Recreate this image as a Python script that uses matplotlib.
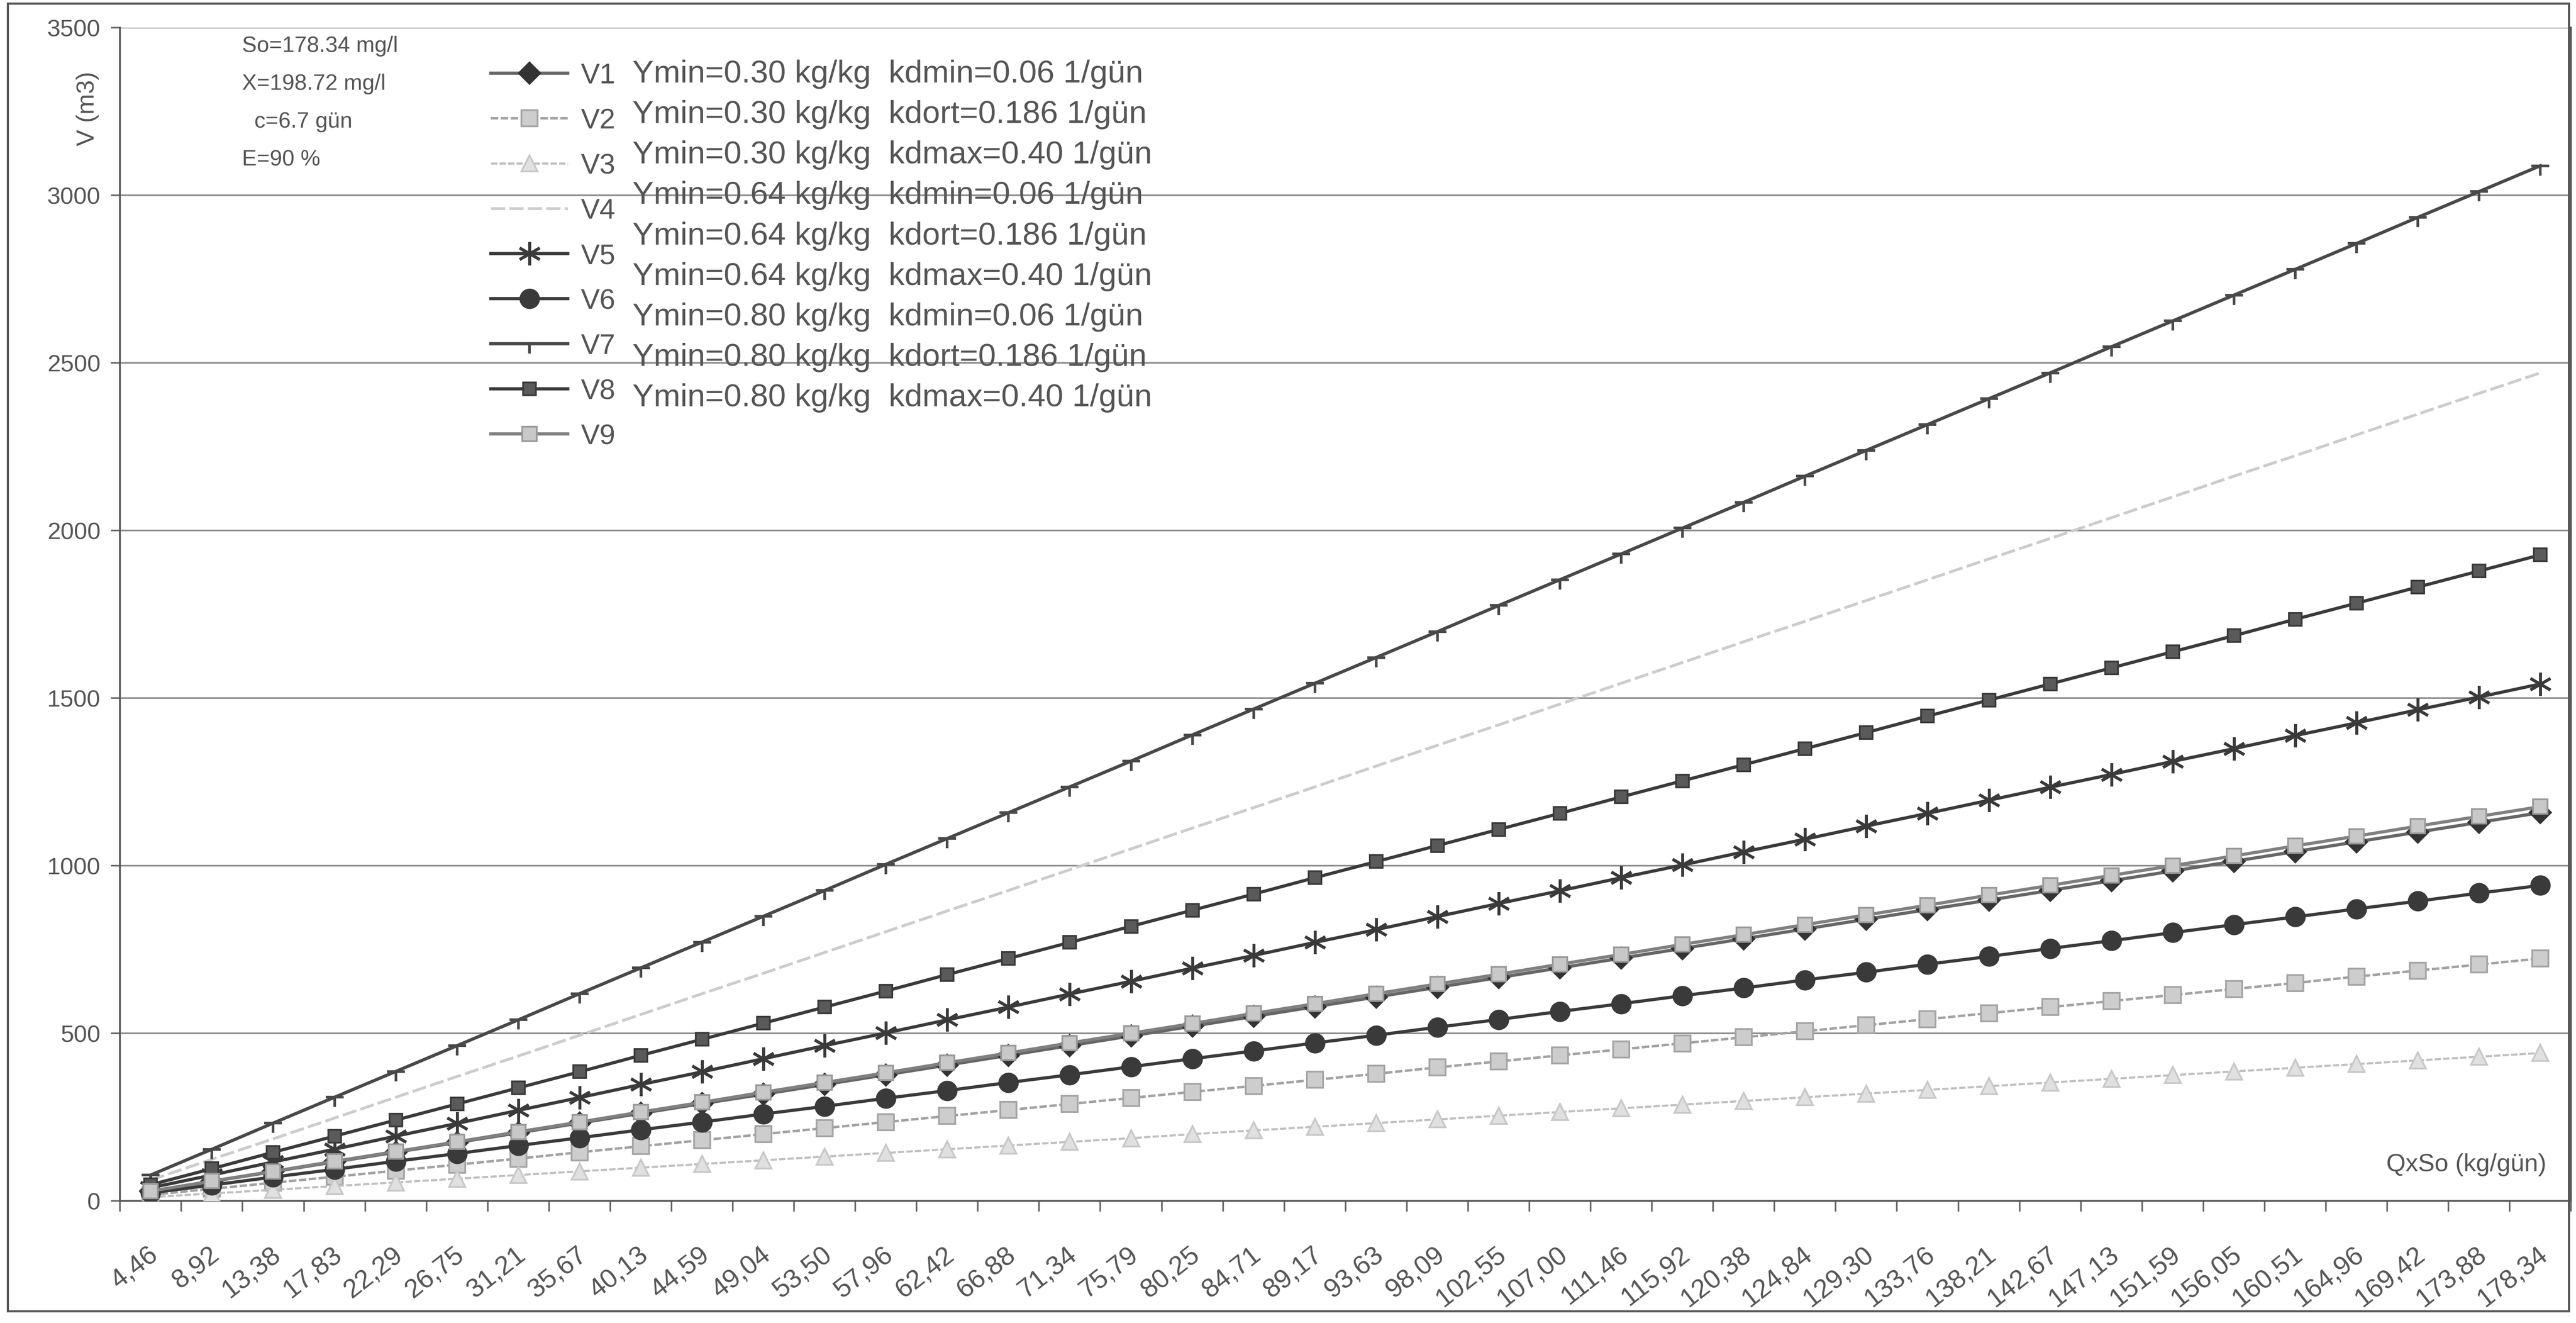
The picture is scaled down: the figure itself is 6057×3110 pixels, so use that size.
import numpy as np
import matplotlib
matplotlib.use('Agg')
import matplotlib.pyplot as plt
import matplotlib.transforms as mtransforms
from matplotlib.path import Path
from matplotlib.patches import Rectangle

plt.rcParams['font.family'] = ['Liberation Sans', 'DejaVu Sans']
narrow = ['Liberation Sans Narrow', 'Liberation Sans', 'DejaVu Sans']

# QxSo categories (kg/gün)
qxso = ['4,46', '8,92', '13,38', '17,83', '22,29', '26,75', '31,21', '35,67', '40,13', '44,59',
        '49,04', '53,50', '57,96', '62,42', '66,88', '71,34', '75,79', '80,25', '84,71', '89,17',
        '93,63', '98,09', '102,55', '107,00', '111,46', '115,92', '120,38', '124,84', '129,30', '133,76',
        '138,21', '142,67', '147,13', '151,59', '156,05', '160,51', '164,96', '169,42', '173,88', '178,34']

# reactor volumes V (m3)
V1 = [29, 58, 87, 116, 145, 174, 203, 232, 261, 290, 318, 347, 376, 405, 434, 463, 492, 521, 550, 579,
      608, 637, 666, 695, 724, 753, 782, 811, 840, 869, 897, 926, 955, 984, 1013, 1042, 1071, 1100, 1129, 1158]
V2 = [18, 36, 54, 72, 90, 108, 126, 145, 163, 181, 199, 217, 235, 253, 271, 289, 307, 325, 343, 361,
      379, 398, 416, 434, 452, 470, 488, 506, 524, 542, 560, 578, 596, 614, 632, 650, 669, 687, 705, 723]
V3 = [11, 22, 33, 44, 55, 66, 77, 88, 99, 110, 121, 132, 143, 154, 165, 176, 187, 199, 210, 221,
      232, 243, 254, 265, 276, 287, 298, 309, 320, 331, 342, 353, 364, 375, 386, 397, 408, 419, 430, 441]
V4 = [62, 124, 185, 247, 309, 371, 432, 494, 556, 618, 679, 741, 803, 865, 926, 988, 1050, 1112, 1173, 1235,
      1297, 1359, 1420, 1482, 1544, 1606, 1668, 1729, 1791, 1853, 1915, 1976, 2038, 2100, 2162, 2223, 2285, 2347, 2409, 2470]
V5 = [39, 77, 116, 154, 193, 231, 270, 308, 347, 385, 424, 463, 501, 540, 578, 617, 655, 694, 732, 771,
      809, 848, 887, 925, 964, 1002, 1041, 1079, 1118, 1156, 1195, 1234, 1272, 1311, 1349, 1388, 1426, 1465, 1503, 1542]
V6 = [24, 47, 71, 94, 118, 141, 165, 188, 212, 235, 259, 282, 306, 329, 353, 376, 400, 424, 447, 471,
      494, 518, 541, 565, 588, 612, 635, 659, 682, 706, 729, 753, 776, 800, 824, 847, 871, 894, 918, 941]
V7 = [77, 154, 232, 309, 386, 463, 540, 618, 695, 772, 849, 926, 1004, 1081, 1158, 1235, 1312, 1390, 1467, 1544,
      1621, 1698, 1776, 1853, 1930, 2007, 2084, 2162, 2239, 2316, 2393, 2470, 2548, 2625, 2702, 2779, 2856, 2934, 3011, 3088]
V8 = [48, 96, 145, 193, 241, 289, 337, 385, 434, 482, 530, 578, 626, 675, 723, 771, 819, 867, 915, 964,
      1012, 1060, 1108, 1156, 1205, 1253, 1301, 1349, 1397, 1446, 1494, 1542, 1590, 1638, 1686, 1735, 1783, 1831, 1879, 1927]
V9 = [29, 59, 88, 118, 147, 176, 206, 235, 265, 294, 324, 353, 382, 412, 441, 471, 500, 529, 559, 588,
      618, 647, 676, 706, 735, 765, 794, 824, 853, 882, 912, 941, 971, 1000, 1029, 1059, 1088, 1118, 1147, 1176]

names = ['V1', 'V2', 'V3', 'V4', 'V5', 'V6', 'V7', 'V8', 'V9']
descriptions = ['Ymin=0.30 kg/kg  kdmin=0.06 1/gün',
                'Ymin=0.30 kg/kg  kdort=0.186 1/gün',
                'Ymin=0.30 kg/kg  kdmax=0.40 1/gün',
                'Ymin=0.64 kg/kg  kdmin=0.06 1/gün',
                'Ymin=0.64 kg/kg  kdort=0.186 1/gün',
                'Ymin=0.64 kg/kg  kdmax=0.40 1/gün',
                'Ymin=0.80 kg/kg  kdmin=0.06 1/gün',
                'Ymin=0.80 kg/kg  kdort=0.186 1/gün',
                'Ymin=0.80 kg/kg  kdmax=0.40 1/gün']
params = ['So=178.34 mg/l', 'X=198.72 mg/l', '  c=6.7 gün', 'E=90 %']

# bar with a short tick hanging below it
tick_marker = Path([(-1, 0), (1, 0), (0, 0), (0, -1.1)],
                   [Path.MOVETO, Path.LINETO, Path.MOVETO, Path.LINETO])

styles = [
    dict(color='#666666', lw=1.8, marker='D', ms=8.5, mfc='#333333', mec='#333333'),
    dict(color='#a2a2a2', lw=1.4, ls=(0, (3, 1)), marker='s', ms=9, mfc='#cdcdcd', mec='#a5a5a5'),
    dict(color='#c0c0c0', lw=1.2, ls=(0, (3, 1)), marker='^', ms=9, mfc='#e0e0e0', mec='#c8c8c8'),
    dict(color='#cccccc', lw=1.6, ls=(0, (5, 1.5)), marker=None),
    dict(color='#3a3a3a', lw=1.8, marker=(6, 2, 0), ms=13, mec='#3a3a3a', mew=1.6),
    dict(color='#3a3a3a', lw=1.8, marker='o', ms=10.5, mfc='#3a3a3a', mec='#3a3a3a'),
    dict(color='#484848', lw=1.8, marker=tick_marker, ms=11, mec='#484848', mew=1.5),
    dict(color='#3a3a3a', lw=1.8, marker='s', ms=7, mfc='#5a5a5a', mec='#3a3a3a'),
    dict(color='#808080', lw=1.8, marker='s', ms=8, mfc='#c8c8c8', mec='#9a9a9a'),
]

series = [V1, V2, V3, V4, V5, V6, V7, V8, V9]
x = np.arange(len(qxso))

fig = plt.figure(figsize=(6058 / 300, 3111 / 300), dpi=300)
ax = fig.add_axes([0.0466, 0.0923, 0.9513, 0.8865])

text_gray = '#555555'
grid_gray = '#8a8a8a'

handles = []
for name, vals, st in zip(names, series, styles):
    h, = ax.plot(x, vals, label=name, zorder=3, **st)
    handles.append(h)

ax.set_xlim(-0.5, len(qxso) - 0.5)
ax.set_ylim(0, 3500)
ax.set_yticks(np.arange(0, 3501, 500))
ax.yaxis.grid(True, color=grid_gray, lw=0.9)
ax.set_axisbelow(True)

# tick marks between categories, labels at category centres
ax.set_xticks(np.arange(-0.5, len(qxso), 1.0))
ax.set_xticklabels([])
ax.set_xticks(x, minor=True)
ax.set_xticklabels(qxso, minor=True, rotation=38, ha='right', rotation_mode='anchor',
                   fontsize=15, color=text_gray)
ax.tick_params(axis='x', which='major', length=6, width=0.9, color='#666666', direction='out')
ax.tick_params(axis='x', which='minor', length=0, pad=23)
shift = mtransforms.ScaledTranslation(-2 / 72, 0, fig.dpi_scale_trans)
for lab in ax.get_xticklabels(minor=True):
    lab.set_transform(lab.get_transform() + shift)
ax.tick_params(axis='y', length=5, width=0.9, color='#666666', labelsize=13.5,
               labelcolor=text_gray, pad=6)
for lab in ax.get_yticklabels():
    lab.set_family(narrow)

for side in ['left', 'bottom', 'right', 'top']:
    ax.spines[side].set_color('#555555')
    ax.spines[side].set_linewidth(1.0)
ax.spines['top'].set_visible(False)

fig.text(0.034, 0.918, 'V (m3)', rotation=90, ha='center', va='center',
         fontsize=14, color=text_gray)
ax.text(0.990, 0.031, 'QxSo (kg/gün)', transform=ax.transAxes, ha='right', va='center',
        fontsize=14, color=text_gray)

for i, line in enumerate(params):
    fig.text(0.094, 0.965 - i * 0.0286, line, ha='left', va='center',
             fontsize=12.5, color=text_gray, family=narrow)

leg = ax.legend(handles=handles, loc='upper left', bbox_to_anchor=(0.185, 0.963),
                bbox_transform=fig.transFigure, frameon=False, fontsize=16,
                labelspacing=0.66, handlelength=2.72, handletextpad=0.45, borderpad=0,
                labelcolor=text_gray)

for i, line in enumerate(descriptions):
    fig.text(0.2455, 0.944 - i * 0.0306, line, ha='left', va='center',
             fontsize=18, color=text_gray)

# outer chart border
fig.patches.append(Rectangle((0.003, 0.009), 0.994, 0.988, transform=fig.transFigure,
                             fill=False, edgecolor='#555555', lw=1.2))

fig.savefig('out.png', dpi=300, facecolor='white')
